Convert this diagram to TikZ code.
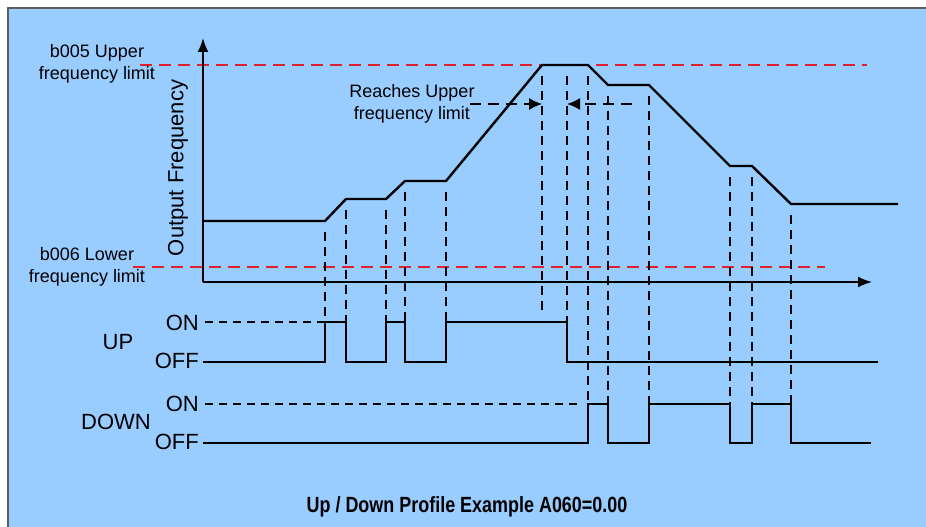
\documentclass[tikz,border=0pt]{standalone}
\usepackage{fontspec}
\setmainfont{Liberation Sans}
\usetikzlibrary{arrows.meta}
\definecolor{bgblue}{HTML}{99CCFF}
\definecolor{limred}{HTML}{E0202E}
\definecolor{frame}{HTML}{5A5F66}
\tikzset{
  curve/.style={line width=2.4pt, line join=miter},
  axis/.style={line width=1.8pt, -{Latex[length=14pt,width=11pt]}},
  signal/.style={line width=1.8pt},
  guide/.style={line width=1.5pt, dash pattern=on 9pt off 6pt},
  onguide/.style={line width=1.3pt, dash pattern=on 8pt off 6pt},
  limit/.style={line width=1.5pt, limred, dash pattern=on 12pt off 7pt},
  lbl/.style={font=\fontsize{18}{21.5}\selectfont, inner sep=0pt, align=center},
  big/.style={font=\fontsize{22}{26}\selectfont, inner sep=0pt},
  reach/.style={line width=1.5pt, dash pattern=on 11pt off 7pt, -{Latex[length=13pt,width=12pt]}}
}
\begin{document}
\begin{tikzpicture}[x=1pt,y=-1pt]
\useasboundingbox (0,0) rectangle (926,527);
\fill[bgblue] (8,8) rectangle (926,527);
\draw[frame, line width=1.5pt] (8,527) -- (8,8) -- (926,8);

% limits
\coordinate (ul0) at (140,65); \coordinate (ul1) at (867,65);
\coordinate (ll0) at (133,267); \coordinate (ll1) at (825,267);
\draw[limit] (ul0) -- (ul1);
\draw[limit] (ll0) -- (ll1);

% axes
\coordinate (o) at (203,282);
\coordinate (ytip) at (203,38);
\coordinate (xtip) at (872,282);
\draw[axis] (o) -- (ytip);
\draw[axis] (o) -- (xtip);

% frequency profile
\coordinate (f0) at (203,221);
\coordinate (f1) at (325,221);
\coordinate (f2) at (346,199);
\coordinate (f3) at (386,199);
\coordinate (f4) at (405,181);
\coordinate (f5) at (446,181);
\coordinate (f6) at (542,65);
\coordinate (f7) at (588,65);
\coordinate (f8) at (608,85);
\coordinate (f9) at (649,85);
\coordinate (f10) at (730,166);
\coordinate (f11) at (752,166);
\coordinate (f12) at (791,204);
\coordinate (f13) at (898,204);
\draw[curve] (f0) -- (f1) -- (f2) -- (f3) -- (f4) -- (f5) -- (f6) -- (f7)
  -- (f8) -- (f9) -- (f10) -- (f11) -- (f12) -- (f13);

% UP signal
\coordinate (u0) at (203,362);
\coordinate (u1) at (325,362); \coordinate (u2) at (325,322);
\coordinate (u3) at (346,322); \coordinate (u4) at (346,362);
\coordinate (u5) at (386,362); \coordinate (u6) at (386,322);
\coordinate (u7) at (405,322); \coordinate (u8) at (405,362);
\coordinate (u9) at (446,362); \coordinate (u10) at (446,322);
\coordinate (u11) at (567,322); \coordinate (u12) at (567,362);
\coordinate (u13) at (878,362);
\draw[signal] (u0) -- (u1) -- (u2) -- (u3) -- (u4) -- (u5) -- (u6) -- (u7)
  -- (u8) -- (u9) -- (u10) -- (u11) -- (u12) -- (u13);
\coordinate (uon) at (205,322);
\draw[onguide] (uon) -- (u2);

% DOWN signal
\coordinate (d0) at (203,443);
\coordinate (d1) at (588,443); \coordinate (d2) at (588,404);
\coordinate (d3) at (608,404); \coordinate (d4) at (608,443);
\coordinate (d5) at (649,443); \coordinate (d6) at (649,404);
\coordinate (d7) at (730,404); \coordinate (d8) at (730,443);
\coordinate (d9) at (752,443); \coordinate (d10) at (752,404);
\coordinate (d11) at (791,404); \coordinate (d12) at (791,443);
\coordinate (d13) at (871,443);
\draw[signal] (d0) -- (d1) -- (d2) -- (d3) -- (d4) -- (d5) -- (d6) -- (d7)
  -- (d8) -- (d9) -- (d10) -- (d11) -- (d12) -- (d13);
\coordinate (don) at (205,404);
\coordinate (done) at (582,404);
\draw[onguide] (don) -- (done);

% vertical guides
\coordinate (g1) at (325,232);
\coordinate (g2) at (346,210);
\coordinate (g3) at (386,210);
\coordinate (g4) at (405,192);
\coordinate (g5) at (446,192);
\coordinate (g6) at (542,76);
\coordinate (g7) at (567,76);
\coordinate (g8) at (588,76);
\coordinate (g9) at (608,96);
\coordinate (g10) at (649,96);
\coordinate (g11) at (730,177);
\coordinate (g12) at (752,177);
\coordinate (g13) at (791,215);
\coordinate (b6) at (542,314);
\draw[guide] (g1) -- (u2);
\draw[guide] (g2) -- (u3);
\draw[guide] (g3) -- (u6);
\draw[guide] (g4) -- (u7);
\draw[guide] (g5) -- (u10);
\draw[guide] (g6) -- (b6);
\draw[guide] (g7) -- (u11);
\draw[guide] (g8) -- (d2);
\draw[guide] (g9) -- (d3);
\draw[guide] (g10) -- (d6);
\draw[guide] (g11) -- (d7);
\draw[guide] (g12) -- (d10);
\draw[guide] (g13) -- (d11);

% reaches upper limit arrows
\coordinate (ra0) at (470,104); \coordinate (ra1) at (542,104);
\coordinate (rb0) at (632,104); \coordinate (rb1) at (567,104);
\draw[reach] (ra0) -- (ra1);
\draw[reach] (rb0) -- (rb1);

% labels
\node[lbl] (tupper) at (97,64) {b005 Upper\\frequency limit};
\node[lbl] (tlower) at (87,267) {b006 Lower\\frequency limit};
\node[big, rotate=90] (tout) at (178,168) {Output Frequency};
\node[lbl] (treach) at (412,104) {Reaches Upper\\frequency limit};
\node[big] (tup) at (118,342) {UP};
\node[big] (tdown) at (116,422) {DOWN};
\node[big, anchor=east] (ton1) at (199,323) {ON};
\node[big, anchor=east] (toff1) at (199,361) {OFF};
\node[big, anchor=east] (ton2) at (199,404) {ON};
\node[big, anchor=east] (toff2) at (199,442) {OFF};
\node[font=\fontsize{22}{26}\selectfont\bfseries, inner sep=0pt, xscale=0.816] (title) at (467,507) {Up / Down Profile Example A060=0.00};
\end{tikzpicture}
\end{document}
